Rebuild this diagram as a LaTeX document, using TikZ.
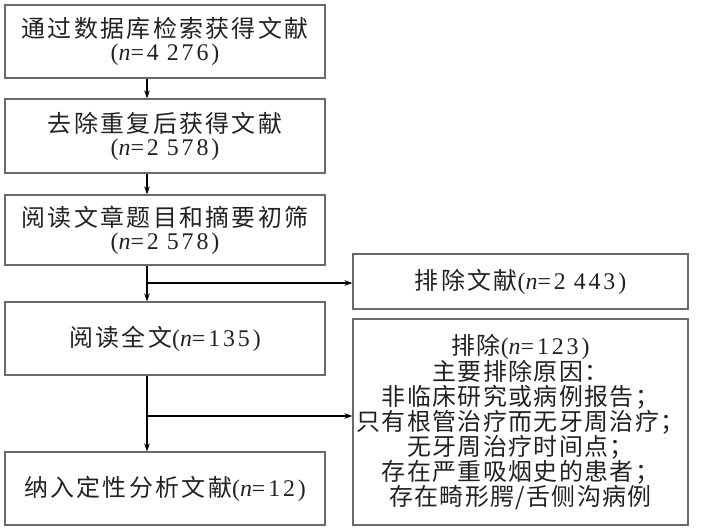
\documentclass[tikz,border=0pt]{standalone}
\usepackage{fontspec}
\setmainfont[LetterSpace=12]{Liberation Serif}
\newfontfamily\zh[LetterSpace=10]{Noto Sans CJK SC}
\newfontfamily\zhn[LetterSpace=6]{Noto Sans CJK SC}
\usetikzlibrary{arrows.meta,calc}
\definecolor{boxline}{HTML}{6A6A6A}
\definecolor{txt}{HTML}{222222}
\tikzset{
  box/.style={draw=boxline,line width=1.1bp,minimum width=320bp,inner sep=0pt,align=center,text=txt,font=\fontsize{24}{23}\selectfont},
  rbox/.style={box,minimum width=335bp},
  arr/.style={draw=black,line width=1.6bp,-{Stealth[length=8bp,width=5.5bp]}}
}
\newcommand{\nn}{{\itshape n}}
\newcommand{\gp}{\hspace{8bp}}
\begin{document}
\begin{tikzpicture}[x=1bp,y=-1bp]
\useasboundingbox (0,0) rectangle (703,530);
\node[box,minimum height=73bp] (b1) at (165,41.5) {{\zh 通过数据库检索获得文献}\\(\nn=4\gp276)};
\node[box,minimum height=74bp] (b2) at (165,136) {{\zh 去除重复后获得文献}\\(\nn=2\gp578)};
\node[box,minimum height=70bp] (b3) at (165,230) {{\zh 阅读文章题目和摘要初筛}\\(\nn=2\gp578)};
\node[box,minimum height=73bp] (b4) at (165,338.5) {{\zh 阅读全文}(\nn=135)};
\node[box,minimum height=73bp] (b5) at (165,488.5) {{\zh 纳入定性分析文献}(\nn=12)};
\node[rbox,minimum height=55bp] (r1) at (520.5,281.5) {{\zh 排除文献}(\nn=2\gp443)};
\node[rbox,minimum height=206bp,font=\fontsize{24}{25}\selectfont] (r2) at (520.5,422) {{\zhn 排除}(\nn=123)\\{\zhn 主要排除原因：}\\{\zhn 非临床研究或病例报告；}\\{\zhn 只有根管治疗而无牙周治疗；}\\{\zhn 无牙周治疗时间点；}\\{\zhn 存在严重吸烟史的患者；}\\{\zhn 存在畸形腭/舌侧沟病例}};
\coordinate (ax) at (147,0);
\coordinate (j1) at (147,283);
\coordinate (j2) at (147,416);
\draw[arr] (ax |- b1.south) -- (ax |- b2.north);
\draw[arr] (ax |- b2.south) -- (ax |- b3.north);
\draw[arr] (ax |- b3.south) -- (ax |- b4.north);
\draw[arr] (j1) -- (j1 -| r1.west);
\draw[arr] (ax |- b4.south) -- (ax |- b5.north);
\draw[arr] (j2) -- (j2 -| r2.west);
\end{tikzpicture}
\end{document}
